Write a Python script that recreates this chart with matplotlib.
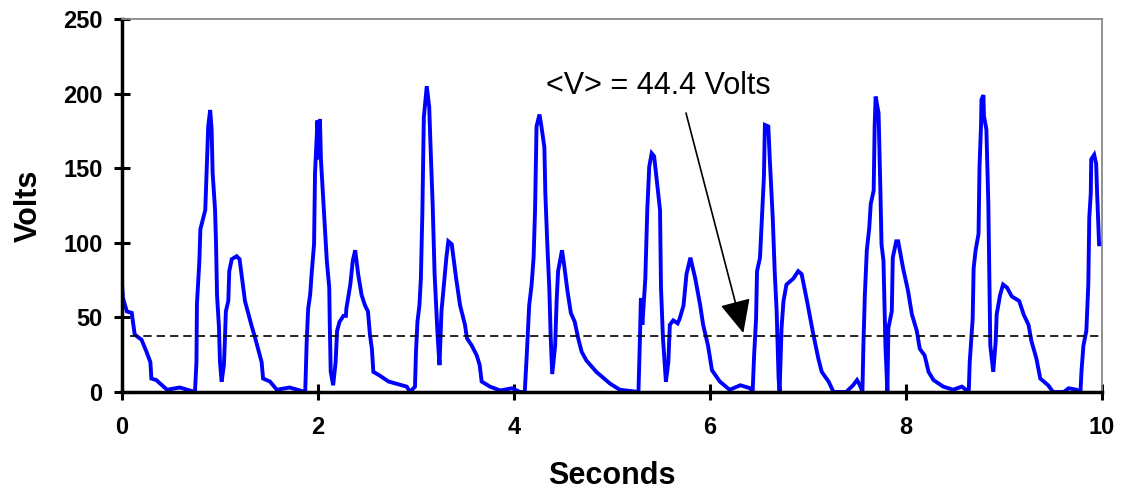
import matplotlib.pyplot as plt

plt.rcParams['font.family'] = ['Liberation Sans', 'DejaVu Sans']

# waveform (seconds, volts)
t = [0.0, 0.01, 0.05, 0.10, 0.13, 0.20, 0.25, 0.29, 0.30, 0.35, 0.46, 0.59, 0.745,
     0.76, 0.765, 0.79, 0.80, 0.85, 0.86, 0.88, 0.90, 0.915, 0.925, 0.95, 0.96, 0.97, 0.99,
     1.00, 1.017, 1.04, 1.05, 1.06, 1.085, 1.095, 1.12, 1.17, 1.20, 1.255, 1.32, 1.36,
     1.425, 1.44, 1.51, 1.58, 1.71, 1.87,
     1.885, 1.90, 1.92, 1.935, 1.96, 1.97, 1.995, 2.0, 2.02, 2.03, 2.055, 2.09, 2.115,
     2.12, 2.13, 2.155, 2.18, 2.195, 2.22, 2.26, 2.285, 2.29, 2.33, 2.355, 2.38, 2.41,
     2.445, 2.48, 2.51, 2.53, 2.55, 2.565, 2.63, 2.72, 2.905, 2.94, 2.99,
     3.0, 3.015, 3.035, 3.05, 3.065, 3.08, 3.11, 3.135, 3.15, 3.17, 3.19, 3.22, 3.24,
     3.26, 3.31, 3.33, 3.365, 3.41, 3.45, 3.50, 3.52, 3.57, 3.62, 3.65, 3.67, 3.755,
     3.86, 3.98, 4.06, 4.11,
     4.13, 4.155, 4.18, 4.20, 4.215, 4.23, 4.26, 4.28, 4.31, 4.32, 4.34, 4.36, 4.375,
     4.39, 4.42, 4.435, 4.45, 4.49, 4.51, 4.545, 4.58, 4.62, 4.655, 4.69, 4.74, 4.84,
     4.98, 5.08, 5.27,
     5.285, 5.295, 5.31, 5.33, 5.34, 5.36, 5.38, 5.405, 5.43, 5.46, 5.49, 5.50, 5.52,
     5.55, 5.575, 5.59, 5.625, 5.67, 5.69, 5.73, 5.76, 5.80, 5.85, 5.90, 5.93, 5.98,
     6.02, 6.10, 6.20, 6.31, 6.41, 6.435,
     6.45, 6.47, 6.48, 6.51, 6.53, 6.55, 6.56, 6.595, 6.61, 6.64, 6.66, 6.68, 6.70,
     6.71, 6.73, 6.75, 6.78, 6.85, 6.90, 6.935, 6.99, 7.05, 7.105, 7.14, 7.21, 7.26,
     7.39, 7.46, 7.50, 7.53, 7.555,
     7.565, 7.58, 7.60, 7.625, 7.64, 7.67, 7.68, 7.69, 7.72, 7.73, 7.74, 7.75, 7.77,
     7.79, 7.80, 7.81, 7.82, 7.855, 7.865, 7.90, 7.92, 7.97, 8.02, 8.06, 8.11, 8.14,
     8.19, 8.23, 8.28, 8.38, 8.48, 8.57, 8.64,
     8.65, 8.68, 8.69, 8.71, 8.74, 8.75, 8.765, 8.77, 8.79, 8.795, 8.82, 8.84, 8.86,
     8.89, 8.915, 8.925, 8.96, 8.99, 9.03, 9.08, 9.155, 9.20, 9.25, 9.28, 9.33, 9.37,
     9.45, 9.50, 9.61, 9.66, 9.74, 9.78,
     9.79, 9.81, 9.84, 9.86, 9.87, 9.885, 9.89, 9.92, 9.94, 9.95, 9.97, 9.99, 10.0]
v = [73, 63, 54, 53, 38.5, 35, 27, 20, 9, 8, 1.5, 3, 0,
     20, 59, 88, 109, 122, 140, 178, 189, 176, 147, 122, 99, 65, 43,
     20, 7, 18, 34, 54, 61, 81, 89, 91, 89, 61, 45, 36,
     20, 9, 7, 1.5, 3, 0,
     34, 56, 65, 79, 99, 147, 182, 156, 183, 156, 128, 88, 70,
     47, 13.5, 4.5, 20, 41, 47, 51, 51, 56, 72, 88, 95, 79,
     65, 58, 54, 38.5, 29, 13.5, 11, 7, 3.6, 0, 3.6,
     27, 47, 58, 76, 120, 184, 205, 191, 162, 126, 79, 38.5, 18,
     54, 90, 101, 99, 76, 58, 45, 36, 31, 24.5, 18, 7, 3.6,
     1, 2.5, 0, 0,
     24.5, 58, 72, 90, 122, 178, 186, 178, 164, 133, 99, 70, 36,
     12, 31, 61, 81, 95, 86, 68, 53, 47, 36, 27, 21, 13.5,
     5.6, 1.5, 0,
     36, 63, 45, 65, 76, 122, 151, 160, 158, 140, 122, 70, 36,
     7, 20, 45, 48, 46, 49, 58, 79, 90, 76, 58, 45, 31,
     14.6, 7, 1.5, 4.5, 2.5, 0,
     24.5, 49, 81, 90, 117, 144, 179, 178, 156, 117, 81, 54, 9,
     0, 43, 61, 72, 76, 81, 79, 61, 40, 22.5, 13.5, 7, 0,
     0, 4.5, 8, 4.5, 0,
     31, 65, 95, 110, 126, 135, 178, 198, 187, 160, 131, 99, 88,
     31, 14.6, 0, 43, 54, 90, 101, 101, 83, 68, 52, 41, 29,
     24.5, 13.5, 8, 3.6, 1.5, 3.6, 0,
     20, 49, 83, 95, 106, 151, 178, 196, 199, 185, 176, 126, 31,
     13.5, 34, 52, 65, 72, 70, 64, 61, 52, 45, 34, 22.5, 9,
     4.5, 0, 0, 2.5, 1.5, 0,
     13.5, 31, 41, 72, 117, 133, 156, 159, 153, 133, 99, 99, 99]

mean_level = 37.5
label = "<V> = 44.4 Volts"

fig = plt.figure(figsize=(11.22, 4.98), dpi=100)
ax = fig.add_axes([0.1087, 0.2129, 0.8735, 0.7489])

ax.plot(t, v, color='#0000ff', lw=2.8, solid_joinstyle='miter')
ax.plot([0.08, 10], [mean_level, mean_level], color='black', lw=1.2, ls=(0, (5, 3)))

# label and arrow pointing at the dashed line
ax.text(5.47, 205, label, fontsize=22, ha='center', va='center')
ax.annotate('', xy=(6.34, 39.5), xytext=(5.755, 187),
            arrowprops=dict(arrowstyle='-|>,head_length=1.3,head_width=0.6',
                            mutation_scale=16, color='black', lw=1.2,
                            shrinkA=0, shrinkB=0))

ax.set_xlim(0, 10)
ax.set_ylim(0, 250)
ax.set_xticks([0, 2, 4, 6, 8, 10])
ax.set_yticks([0, 50, 100, 150, 200, 250])
ax.tick_params(direction='inout', length=12, width=2.2, labelsize=17)
ax.tick_params(axis='x', pad=11)
ax.tick_params(axis='y', pad=8)
for lab in ax.get_xticklabels() + ax.get_yticklabels():
    lab.set_fontweight('bold')

ax.spines['left'].set_linewidth(2.5)
ax.spines['bottom'].set_linewidth(2.5)
ax.spines['top'].set_color('#888888')
ax.spines['right'].set_color('#888888')
ax.spines['top'].set_linewidth(1.3)
ax.spines['right'].set_linewidth(1.3)

ax.set_xlabel("Seconds", fontsize=22, fontweight='bold', labelpad=16)
ax.set_ylabel("Volts", fontsize=22, fontweight='bold', labelpad=14)

fig.savefig("out.png", dpi=100)
